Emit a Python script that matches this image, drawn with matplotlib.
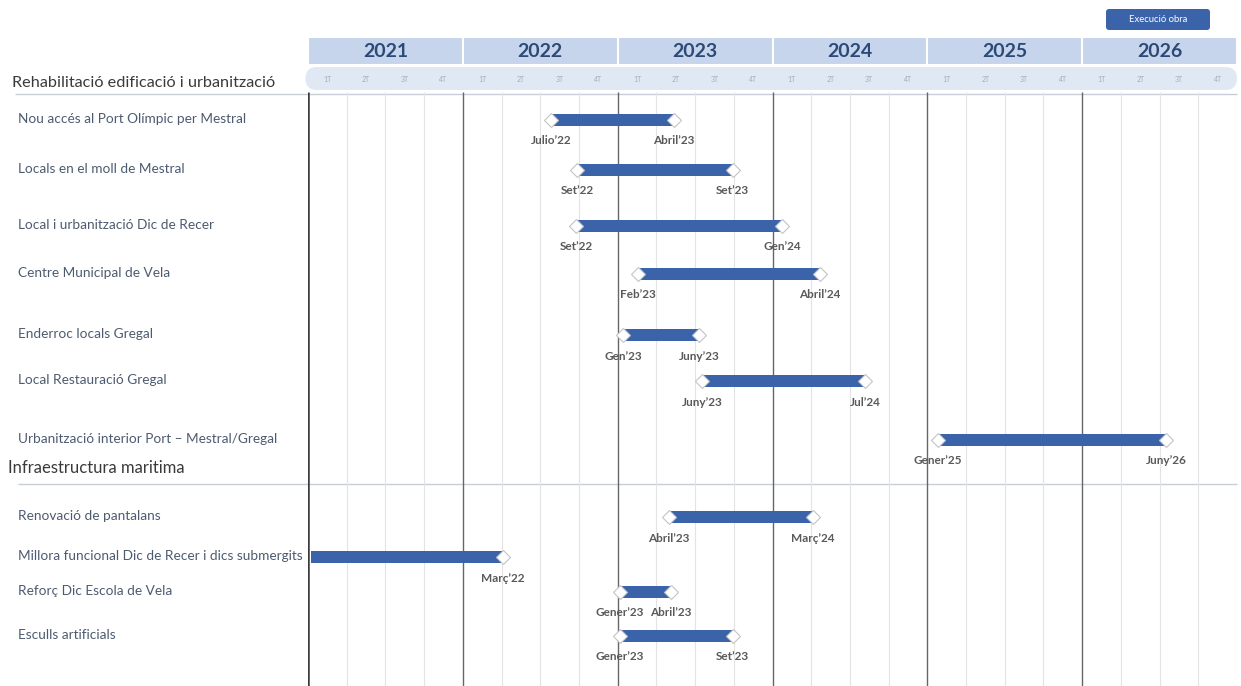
import numpy as np
import matplotlib.pyplot as plt
from matplotlib.patches import FancyBboxPatch, Rectangle

plt.rcParams['font.family'] = ['Lato', 'DejaVu Sans']

# ---------------------------------------------------------------------------
# DATA (months counted from January 2021)
years = [2021, 2022, 2023, 2024, 2025, 2026]
quarters = ["1T", "2T", "3T", "4T"]
section_1 = "Rehabilitació edificació i urbanització"
section_2 = "Infraestructura maritima"
legend_label = "Execució obra"

tasks = ["Nou accés al Port Olímpic per Mestral",
         "Locals en el moll de Mestral",
         "Local i urbanització Dic de Recer",
         "Centre Municipal de Vela",
         "Enderroc locals Gregal",
         "Local Restauració Gregal",
         "Urbanització interior Port – Mestral/Gregal",
         "Renovació de pantalans",
         "Millora funcional Dic de Recer i dics submergits",
         "Reforç Dic Escola de Vela",
         "Esculls artificials"]
start_month = [18.85, 20.85, 20.8, 25.55, 24.4, 30.55, 48.8, 27.95, 0.2, 24.15, 24.15]
end_month = [28.35, 32.9, 36.75, 39.7, 30.3, 43.2, 66.5, 39.15, 15.1, 28.1, 32.9]
start_labels = ["Julio’22", "Set’22", "Set’22", "Feb’23", "Gen’23", "Juny’23",
                "Gener’25", "Abril’23", "", "Gener’23", "Gener’23"]
end_labels = ["Abril’23", "Set’23", "Gen’24", "Abril’24", "Juny’23", "Jul’24",
              "Juny’26", "Març’24", "Març’22", "Abril’23", "Set’23"]

# ---------------------------------------------------------------------------
# LAYOUT (pixel rows from the top of the figure)
W, H = 1241, 686
x0_px, x1_px = 308, 1237
n_months = 12 * len(years)
px_per_month = (x1_px - x0_px) / n_months
row_y = [120, 170, 226, 274, 335, 381, 440, 517, 557, 592, 636]
bar_color = "#3b63a9"

fig = plt.figure(figsize=(W / 100, H / 100), dpi=100)

# background axes in pixel units, for left texts / lines / legend box
bg = fig.add_axes([0, 0, 1, 1])
bg.set_xlim(0, W)
bg.set_ylim(H, 0)
bg.axis("off")

# chart axes: x in months, y in pixels
ax = fig.add_axes([x0_px / W, 0, (x1_px - x0_px) / W, 1])
ax.set_xlim(0, n_months)
ax.set_ylim(H, 0)
ax.axis("off")
ax.patch.set_alpha(0)

# header: year band
for i, yr in enumerate(years):
    ax.add_patch(Rectangle((12 * i, 37), 12, 28, facecolor="#c6d5eb",
                           edgecolor="white", linewidth=1.5, zorder=1))
    ax.text(12 * i + 6, 51.5, str(yr), ha="center", va="center", fontsize=14,
            fontweight="bold", color="#2c4a78", zorder=2)

# header: quarter band
ax.add_patch(FancyBboxPatch((-0.2, 67), n_months + 0.2, 23,
                            boxstyle="round,pad=0,rounding_size=0.88",
                            mutation_aspect=px_per_month,
                            facecolor="#e0e8f3", edgecolor="none",
                            clip_on=False, zorder=1))
for q in range(n_months // 3):
    ax.text(3 * q + 1.5, 79, quarters[q % 4], ha="center", va="center",
            fontsize=5, color="#a4adb8", zorder=2)

# grid
quarter_lines = [m for m in range(3, n_months + 1, 3) if m % 12 != 0 or m == n_months]
ax.vlines(quarter_lines, 92, H, color="#e3e3e3", linewidth=0.8, zorder=0)
ax.vlines([12 * i for i in range(1, len(years))], 92, H, color="#666666",
          linewidth=1.0, zorder=0)
ax.vlines([0], 92, H, color="#3a3a3a", linewidth=1.8, zorder=0)

# section headers
bg.hlines(94, 15, x1_px, color="#c8ced6", linewidth=1)
bg.hlines(484, 18, x1_px, color="#c8ced6", linewidth=1)
bg.text(12, 83, section_1, ha="left", va="center", fontsize=11.7, color="#3a3a3a")
bg.text(8, 468, section_2, ha="left", va="center", fontsize=12, color="#3a3a3a")

# task names
for name, y in zip(tasks, row_y):
    bg.text(18, y - 1, name, ha="left", va="center", fontsize=9.8, color="#4d5b70")

# bars
start = np.array(start_month)
end = np.array(end_month)
ax.barh(row_y, end - start, left=start, height=12, color=bar_color, zorder=3)

# milestones and their labels
has_start = np.array([s != "" for s in start_labels])
ax.plot(start[has_start], np.array(row_y)[has_start], linestyle="none", marker="D",
        markersize=7, markerfacecolor="white", markeredgecolor="#c4c4c4",
        markeredgewidth=0.8, zorder=4)
ax.plot(end, row_y, linestyle="none", marker="D", markersize=7,
        markerfacecolor="white", markeredgecolor="#c4c4c4",
        markeredgewidth=0.8, zorder=4)
for s, e, sl, el, y in zip(start, end, start_labels, end_labels, row_y):
    if sl:
        ax.text(s, y + 21, sl, ha="center", va="center", fontsize=8.5,
                fontweight="bold", color="#5a5a5a", zorder=4)
    ax.text(e, y + 21, el, ha="center", va="center", fontsize=8.5,
            fontweight="bold", color="#5a5a5a", zorder=4)

# legend box
bg.add_patch(FancyBboxPatch((1106, 9), 104, 21, boxstyle="round,pad=0,rounding_size=3",
                            facecolor=bar_color, edgecolor="none"))
bg.text(1158, 19.5, legend_label, ha="center", va="center", fontsize=6.8, color="white")

fig.savefig("out.png", dpi=100)
